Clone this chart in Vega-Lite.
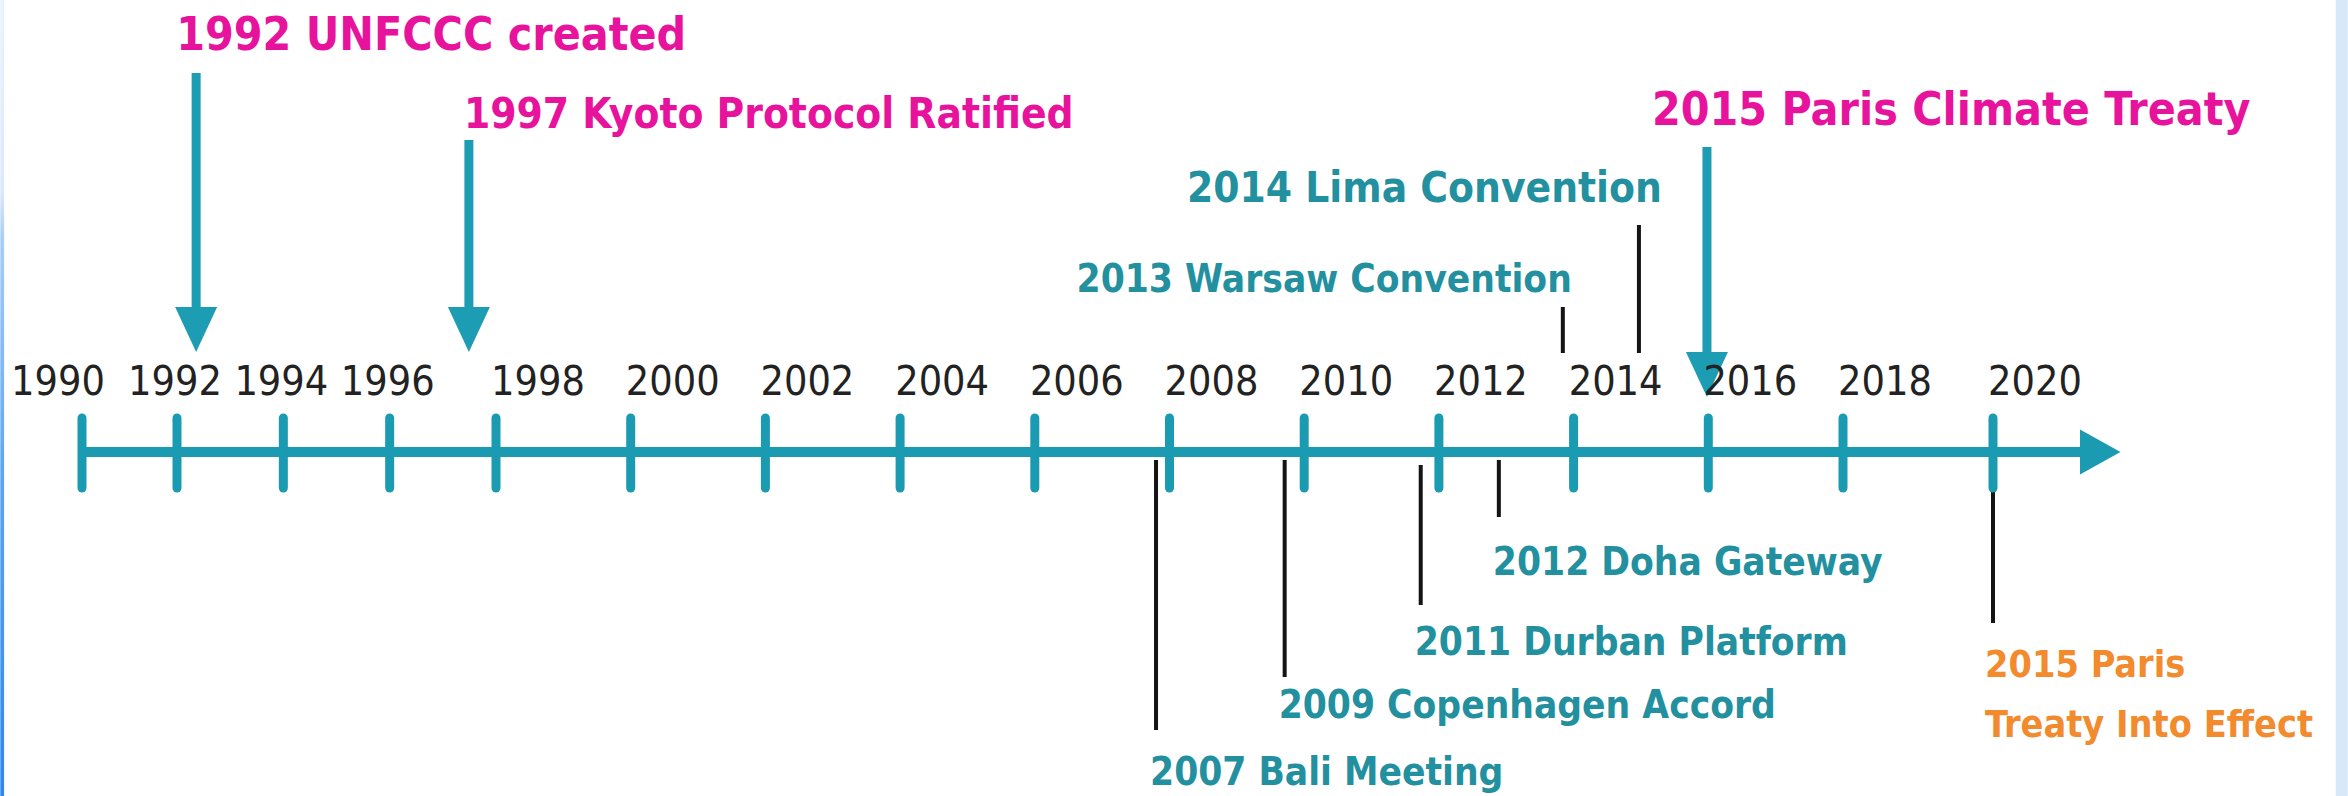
{
  "$schema": "https://vega.github.io/schema/vega-lite/v6.json",
  "width": 2348,
  "height": 796,
  "autosize": {"type": "fit", "contains": "padding"},
  "padding": 0,
  "background": "white",
  "config": {"view": {"stroke": null}, "axis": {"disable": true}},
  "datasets": {
    "ticks": [
      {"year": 1990}, {"year": 1992}, {"year": 1994}, {"year": 1996},
      {"year": 1998}, {"year": 2000}, {"year": 2002}, {"year": 2004},
      {"year": 2006}, {"year": 2008}, {"year": 2010}, {"year": 2012},
      {"year": 2014}, {"year": 2016}, {"year": 2018}, {"year": 2020}
    ],
    "events": [
      {"id": "unfccc", "kind": "arrow", "label": "1992 UNFCCC created", "pos": 1992.36, "y1": 37.9, "y2": 12.25, "ly": 40.2},
      {"id": "kyoto", "kind": "arrow", "label": "1997 Kyoto Protocol Ratified", "pos": 1997.49, "y1": 31.2, "y2": 12.25, "ly": 32.4},
      {"id": "paris", "kind": "arrow", "label": "2015 Paris Climate Treaty", "pos": 2015.98, "y1": 30.5, "y2": 7.75, "ly": 32.7},
      {"id": "lima", "kind": "up", "label": "2014 Lima Convention", "pos": 2014.97, "y1": 22.7, "y2": 9.9, "ly": 25.0},
      {"id": "warsaw", "kind": "up", "label": "2013 Warsaw Convention", "pos": 2013.84, "y1": 14.5, "y2": 9.9, "ly": 16.0},
      {"id": "bali", "kind": "down", "label": "2007 Bali Meeting", "pos": 2007.8, "y1": -0.8, "y2": -27.8, "ly": -33.3},
      {"id": "copenhagen", "kind": "down", "label": "2009 Copenhagen Accord", "pos": 2009.71, "y1": -0.8, "y2": -22.5, "ly": -26.6},
      {"id": "durban", "kind": "down", "label": "2011 Durban Platform", "pos": 2011.73, "y1": -1.3, "y2": -15.3, "ly": -20.3},
      {"id": "doha", "kind": "down", "label": "2012 Doha Gateway", "pos": 2012.89, "y1": -0.8, "y2": -6.5, "ly": -12.3},
      {"id": "effect", "kind": "effect", "label": "2015 Paris\nTreaty Into Effect", "pos": 2020, "y1": -1.0, "y2": -17.1, "ly": -22.5}
    ]
  },
  "layer": [
    {
      "data": {"values": [{"edge": "left"}]},
      "mark": {"type": "rect", "color": {"gradient": "linear", "x1": 0, "y1": 0, "x2": 0, "y2": 1, "stops": [
        {"offset": 0, "color": "#eaf2fd"}, {"offset": 0.24, "color": "#dce9fb"}, {"offset": 0.3, "color": "#a8cdf7"},
        {"offset": 0.6, "color": "#5aa5f3"}, {"offset": 1, "color": "#2f86ee"}]}},
      "encoding": {
        "x": {"datum": 1988.28, "type": "quantitative", "scale": {"domain": [1990, 1992, 1998, 2018, 2020], "range": [82, 177, 496, 1843, 1993], "nice": false, "zero": false}},
        "x2": {"datum": 1988.36},
        "y": {"datum": 45.2, "type": "quantitative", "scale": {"domain": [-34.4, 45.2], "nice": false, "zero": false}},
        "y2": {"datum": -34.4}
      }
    },
    {
      "data": {"values": [{"edge": "right"}]},
      "mark": {"type": "rect", "color": "#d6e8fa"},
      "encoding": {
        "x": {"datum": 2024.57, "type": "quantitative"},
        "x2": {"datum": 2024.73},
        "y": {"datum": 45.2, "type": "quantitative"},
        "y2": {"datum": -34.4}
      }
    },
    {
      "data": {"name": "events"},
      "transform": [{"filter": "datum.kind != 'arrow'"}],
      "mark": {"type": "rule", "color": "#141414", "strokeWidth": 4},
      "encoding": {
        "x": {"field": "pos", "type": "quantitative"},
        "y": {"field": "y1", "type": "quantitative"},
        "y2": {"field": "y2"}
      }
    },
    {
      "data": {"values": [{"part": "timeline"}]},
      "mark": {"type": "rule", "color": "#1b9bb1", "strokeWidth": 10},
      "encoding": {
        "x": {"datum": 1990, "type": "quantitative"},
        "x2": {"datum": 2021.25},
        "y": {"datum": 0, "type": "quantitative"}
      }
    },
    {
      "data": {"name": "ticks"},
      "mark": {"type": "rule", "color": "#1b9bb1", "strokeWidth": 9, "strokeCap": "round"},
      "encoding": {
        "x": {"field": "year", "type": "quantitative"},
        "y": {"datum": 3.4, "type": "quantitative"},
        "y2": {"datum": -3.6}
      }
    },
    {
      "data": {"values": [{"part": "arrowhead"}]},
      "mark": {"type": "point", "shape": "M-0.9,-1L0.9,0L-0.9,1Z", "size": 2025, "filled": true, "opacity": 1, "color": "#1b9bb1"},
      "encoding": {
        "x": {"datum": 2021.43, "type": "quantitative"},
        "y": {"datum": 0, "type": "quantitative"}
      }
    },
    {
      "data": {"name": "events"},
      "transform": [{"filter": "datum.kind == 'arrow'"}],
      "mark": {"type": "rule", "color": "#1c9db3", "strokeWidth": 9},
      "encoding": {
        "x": {"field": "pos", "type": "quantitative"},
        "y": {"field": "y1", "type": "quantitative"},
        "y2": {"field": "y2"}
      }
    },
    {
      "data": {"name": "events"},
      "transform": [{"filter": "datum.kind == 'arrow'"}],
      "mark": {"type": "point", "shape": "M-1,-1.07L1,-1.07L0,1.07Z", "size": 1764, "filled": true, "opacity": 1, "color": "#1c9db3"},
      "encoding": {
        "x": {"field": "pos", "type": "quantitative"},
        "y": {"field": "y2", "type": "quantitative"}
      }
    },
    {
      "data": {"name": "ticks"},
      "transform": [{"filter": "datum.year >= 1998"}],
      "mark": {"type": "text", "align": "center", "baseline": "alphabetic", "dx": 42, "font": "DejaVu Sans Condensed", "fontSize": 41, "color": "#222222"},
      "encoding": {
        "x": {"field": "year", "type": "quantitative"},
        "y": {"datum": 5.7, "type": "quantitative"},
        "text": {"field": "year", "type": "nominal"}
      }
    },
    {
      "data": {"name": "ticks"},
      "transform": [{"filter": "datum.year > 1990 && datum.year < 1998"}],
      "mark": {"type": "text", "align": "center", "baseline": "alphabetic", "dx": -2, "font": "DejaVu Sans Condensed", "fontSize": 41, "color": "#222222"},
      "encoding": {
        "x": {"field": "year", "type": "quantitative"},
        "y": {"datum": 5.7, "type": "quantitative"},
        "text": {"field": "year", "type": "nominal"}
      }
    },
    {
      "data": {"name": "ticks"},
      "transform": [{"filter": "datum.year == 1990"}],
      "mark": {"type": "text", "align": "center", "baseline": "alphabetic", "dx": -24, "font": "DejaVu Sans Condensed", "fontSize": 41, "color": "#222222"},
      "encoding": {
        "x": {"field": "year", "type": "quantitative"},
        "y": {"datum": 5.7, "type": "quantitative"},
        "text": {"field": "year", "type": "nominal"}
      }
    },
    {
      "data": {"name": "events"},
      "transform": [{"filter": "datum.id == 'unfccc'"}],
      "mark": {"type": "text", "align": "left", "baseline": "alphabetic", "dx": -20, "font": "DejaVu Sans Condensed", "fontWeight": "bold", "fontSize": 46, "color": "#e8139c"},
      "encoding": {
        "x": {"field": "pos", "type": "quantitative"},
        "y": {"field": "ly", "type": "quantitative"},
        "text": {"field": "label"}
      }
    },
    {
      "data": {"name": "events"},
      "transform": [{"filter": "datum.id == 'kyoto'"}],
      "mark": {"type": "text", "align": "left", "baseline": "alphabetic", "dx": -5, "font": "DejaVu Sans Condensed", "fontWeight": "bold", "fontSize": 42, "color": "#e8139c"},
      "encoding": {
        "x": {"field": "pos", "type": "quantitative"},
        "y": {"field": "ly", "type": "quantitative"},
        "text": {"field": "label"}
      }
    },
    {
      "data": {"name": "events"},
      "transform": [{"filter": "datum.id == 'paris'"}],
      "mark": {"type": "text", "align": "left", "baseline": "alphabetic", "dx": -55, "font": "DejaVu Sans Condensed", "fontWeight": "bold", "fontSize": 46, "color": "#e8139c"},
      "encoding": {
        "x": {"field": "pos", "type": "quantitative"},
        "y": {"field": "ly", "type": "quantitative"},
        "text": {"field": "label"}
      }
    },
    {
      "data": {"name": "events"},
      "transform": [{"filter": "datum.id == 'lima'"}],
      "mark": {"type": "text", "align": "right", "baseline": "alphabetic", "dx": 23, "font": "DejaVu Sans Condensed", "fontWeight": "bold", "fontSize": 42, "color": "#22909f"},
      "encoding": {
        "x": {"field": "pos", "type": "quantitative"},
        "y": {"field": "ly", "type": "quantitative"},
        "text": {"field": "label"}
      }
    },
    {
      "data": {"name": "events"},
      "transform": [{"filter": "datum.id == 'warsaw'"}],
      "mark": {"type": "text", "align": "right", "baseline": "alphabetic", "dx": 9, "font": "DejaVu Sans Condensed", "fontWeight": "bold", "fontSize": 38.5, "color": "#22909f"},
      "encoding": {
        "x": {"field": "pos", "type": "quantitative"},
        "y": {"field": "ly", "type": "quantitative"},
        "text": {"field": "label"}
      }
    },
    {
      "data": {"name": "events"},
      "transform": [{"filter": "datum.kind == 'down'"}],
      "mark": {"type": "text", "align": "left", "baseline": "alphabetic", "dx": -6, "font": "DejaVu Sans Condensed", "fontWeight": "bold", "fontSize": 38.5, "color": "#22909f"},
      "encoding": {
        "x": {"field": "pos", "type": "quantitative"},
        "y": {"field": "ly", "type": "quantitative"},
        "text": {"field": "label"}
      }
    },
    {
      "data": {"name": "events"},
      "transform": [{"filter": "datum.kind == 'effect'"}],
      "mark": {"type": "text", "align": "left", "baseline": "alphabetic", "dx": -8, "font": "DejaVu Sans Condensed", "fontWeight": "bold", "fontSize": 37.5, "lineBreak": "\n", "lineHeight": 60, "color": "#f28b2e"},
      "encoding": {
        "x": {"field": "pos", "type": "quantitative"},
        "y": {"field": "ly", "type": "quantitative"},
        "text": {"field": "label"}
      }
    }
  ]
}
